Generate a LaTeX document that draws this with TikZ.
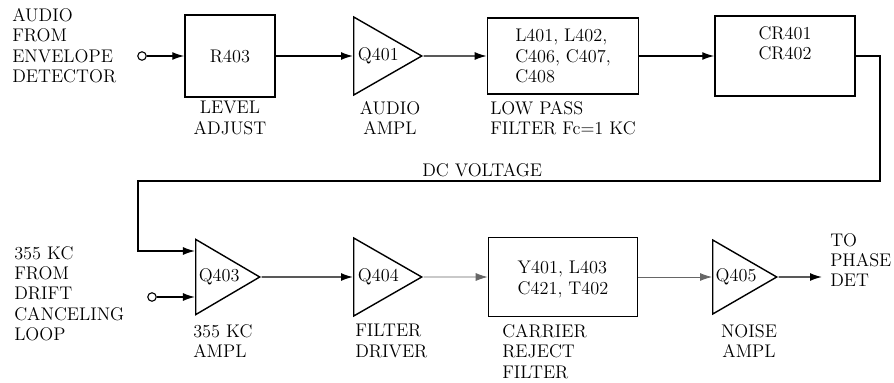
\documentclass[tikz,border=0pt]{standalone}
\usetikzlibrary{shapes.geometric,arrows.meta}
\begin{document}
\begin{tikzpicture}[x=0.025cm,y=-0.025cm,
    font=\fontsize{13}{14.5}\selectfont,
    >={Latex[length=3mm,width=2mm]},
    blk/.style={draw,line width=1pt,inner sep=2pt},
    amp/.style={draw,line width=1pt,isosceles triangle,isosceles triangle stretches,
      minimum width=1.95cm,minimum height=1.7cm,inner sep=0pt,anchor=west},
    jack/.style={draw,circle,line width=0.8pt,minimum size=6pt,inner sep=0pt},
    txt/.style={align=left,anchor=north west,inner sep=0pt}]
  \useasboundingbox (0,0) rectangle (894,382);
  % top row
  \node[jack] (in1) at (142,56) {};
  \node[blk,minimum width=2.25cm,minimum height=2.05cm] (r403) at (230,56) {R403};
  \node[amp] (q401) at (353,56) {Q401};
  \node[blk,minimum width=3.78cm,minimum height=1.9cm,align=left] (lpf) at (563,56)
    {L401, L402,\\C406, C407,\\C408\hphantom{, C407,}};
  \node[blk,minimum width=3.5cm,minimum height=2cm,align=center] (cr) at (785,56)
    {CR401\\CR402\\[4pt]};
  % bottom row
  \node[jack] (in2) at (152,297) {};
  \node[amp,minimum width=1.88cm,minimum height=1.6cm] (q403) at (195,277) {Q403};
  \node[amp] (q404) at (353,277) {Q404};
  \node[blk,minimum width=3.73cm,minimum height=1.98cm,align=left] (crj) at (563,277)
    {\\[-2pt]Y401, L403\\C421, T402};
  \node[amp,minimum width=1.85cm,minimum height=1.6cm] (q405) at (712,277) {Q405};
  \coordinate (q403a) at (195,251);
  \coordinate (q403b) at (195,297);
  \coordinate (fbr) at (880,181);
  \coordinate (fbl) at (138,181);
  \coordinate (out) at (822,277);
  % texts
  \node[txt] (t1) at (12,8) {AUDIO\\FROM\\ENVELOPE\\DETECTOR};
  \node[align=center,anchor=north,inner sep=0pt] (t2) at (230,101) {LEVEL\\ADJUST};
  \node[align=center,anchor=north,inner sep=0pt] (t3) at (390,101) {AUDIO\\AMPL};
  \node[txt] (t4) at (490,101) {LOW PASS\\FILTER Fc=1 KC};
  \node[anchor=south west,inner sep=0pt] (t5) at (422,177) {DC VOLTAGE};
  \node[txt] (t6) at (14,246) {355 KC\\FROM\\DRIFT\\CANCELING\\LOOP};
  \node[txt] (t7) at (193,324) {355 KC\\AMPL};
  \node[txt] (t8) at (355,324) {FILTER\\DRIVER};
  \node[txt] (t9) at (502,324) {CARRIER\\REJECT\\FILTER};
  \node[align=center,anchor=north,inner sep=0pt] (t10) at (749,324) {NOISE\\AMPL};
  \node[txt] (t11) at (830,233) {TO\\PHASE\\DET};
  \begin{scope}[->,line width=1pt]
    \draw (in1) -- (r403);
    \draw (r403.east) -- (q401.west);
    \draw (q401.apex) -- (lpf.west);
    \draw (lpf.east) -- (cr.west);
    \draw (cr.east) -| (fbr) -- (fbl) |- (q403a);
    \draw (in2) -- (q403b);
    \draw (q403.apex) -- (q404.west);
    \draw[line width=0.6pt,black!60] (q404.apex) -- (crj.west);
    \draw[line width=0.6pt,black!60] (crj.east) -- (q405.west);
    \draw (q405.apex) -- (out);
  \end{scope}
\end{tikzpicture}
\end{document}
